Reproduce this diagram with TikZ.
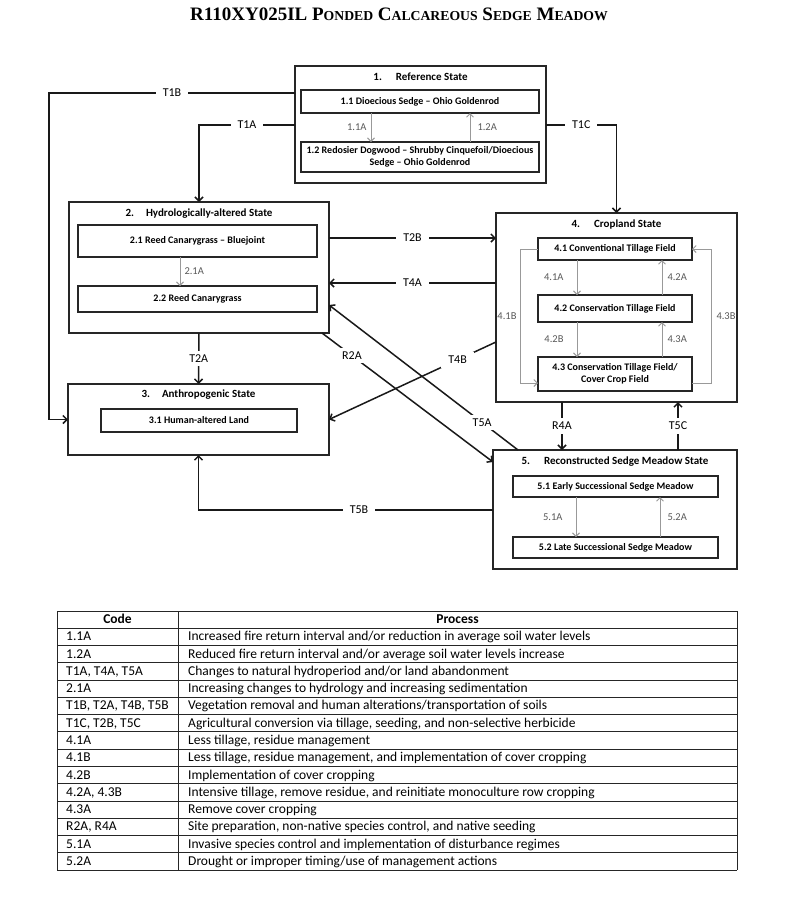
\documentclass[tikz,border=0pt]{standalone}
\usepackage{fontspec}
\setmainfont{Carlito}
\newfontfamily\titlefont{Liberation Serif}
\usetikzlibrary{arrows.meta}
\newcommand\myscaps[1]{{\fontsize{13.7}{14}\selectfont #1}}
\begin{document}
\begin{tikzpicture}[x=1pt,y=-1pt,
  statebox/.style={draw=black!85, line width=1.8pt, inner sep=0pt, outer sep=0pt},
  subbox/.style={draw=black!85, line width=1.1pt, inner sep=0pt, outer sep=0pt, align=center, font=\bfseries\fontsize{10}{12}\selectfont},
  stitle/.style={font=\bfseries\fontsize{11}{13}\selectfont, inner sep=0pt},
  conn/.style={line width=1.5pt, draw=black!90},
  arr/.style={-{Straight Barb[length=4pt,width=8pt]}},
  tlabel/.style={fill=white, font=\fontsize{12}{14}\selectfont, inner xsep=7pt, inner ysep=4pt},
  garrow/.style={draw=black!40, line width=1pt, -{Straight Barb[length=3.5pt,width=7pt]}},
  glabel/.style={font=\fontsize{10.5}{12}\selectfont, text=black!65, inner sep=0pt},
  tline/.style={line width=0.9pt, draw=black!85},
  ttext/.style={font=\fontsize{13.5}{16}\selectfont, anchor=base west, inner sep=0pt},
  thead/.style={font=\bfseries\fontsize{13.5}{16}\selectfont, anchor=base, inner sep=0pt}
]
\useasboundingbox[fill=white] (0,0) rectangle (800,906);

% title
\node[anchor=base, inner sep=0pt, font=\titlefont\bfseries\fontsize{19}{20}\selectfont] (title) at (399,20)
  {R110XY025IL P\myscaps{ONDED} C\myscaps{ALCAREOUS} S\myscaps{EDGE} M\myscaps{EADOW}};

% state 1
\node[statebox, minimum width=251pt, minimum height=117pt] (s1) at (420.5,124.5) {};
\node[stitle] (s1t) at (420.5,77) {1.\hspace{14pt}Reference State};
\node[subbox, minimum width=238pt, minimum height=23pt] (b11) at (420,101.5) {1.1 Dioecious Sedge \textendash{} Ohio Goldenrod};
\node[subbox, minimum width=238pt, minimum height=30pt] (b12) at (420,157) {1.2 Redosier Dogwood \textendash{} Shrubby Cinquefoil/Dioecious\\Sedge \textendash{} Ohio Goldenrod};

% state 2
\node[statebox, minimum width=260pt, minimum height=131pt] (s2) at (199,267.5) {};
\node[stitle] (s2t) at (199,214) {2.\hspace{12pt}Hydrologically-altered State};
\node[subbox, minimum width=239pt, minimum height=32pt] (b21) at (197.5,241) {2.1 Reed Canarygrass \textendash{} Bluejoint};
\node[subbox, minimum width=239pt, minimum height=26pt] (b22) at (197.5,299) {2.2 Reed Canarygrass};

% state 3
\node[statebox, minimum width=261pt, minimum height=71pt] (s3) at (198.5,419.5) {};
\node[stitle] (s3t) at (198.5,395) {3.\hspace{12pt}Anthropogenic State};
\node[subbox, minimum width=196pt, minimum height=23pt] (b31) at (199,420.5) {3.1 Human-altered Land};

% state 4
\node[statebox, minimum width=241pt, minimum height=189pt] (s4) at (616.5,307.5) {};
\node[stitle] (s4t) at (616.5,224) {4.\hspace{14pt}Cropland State};
\node[subbox, minimum width=154pt, minimum height=22pt] (b41) at (615,249) {4.1 Conventional Tillage Field};
\node[subbox, minimum width=154pt, minimum height=27pt] (b42) at (615,308.5) {4.2 Conservation Tillage Field};
\node[subbox, minimum width=154pt, minimum height=34pt] (b43) at (615,374) {4.3 Conservation Tillage Field/\\Cover Crop Field};

% state 5
\node[statebox, minimum width=244pt, minimum height=119pt] (s5) at (615,509.5) {};
\node[stitle] (s5t) at (615,462) {5.\hspace{14pt}Reconstructed Sedge Meadow State};
\node[subbox, minimum width=205pt, minimum height=21pt] (b51) at (615.5,486.5) {5.1 Early Successional Sedge Meadow};
\node[subbox, minimum width=205pt, minimum height=21pt] (b52) at (615.5,547.5) {5.2 Late Successional Sedge Meadow};

% community pathways
\draw[garrow] ([xshift=-49pt]b11.south) -- node[glabel,left=4pt]{1.1A} ([xshift=-49pt]b12.north);
\draw[garrow] ([xshift=50pt]b12.north) -- node[glabel,right=7pt]{1.2A} ([xshift=50pt]b11.south);
\draw[garrow] ([xshift=-17.5pt]b21.south) -- node[glabel,right=4pt]{2.1A} ([xshift=-17.5pt]b22.north);
\draw[garrow] ([xshift=-38pt]b41.south) -- node[glabel,left=13pt]{4.1A} ([xshift=-38pt]b42.north);
\draw[garrow] ([xshift=47pt]b42.north) -- node[glabel,right=5pt]{4.2A} ([xshift=47pt]b41.south);
\draw[garrow] ([xshift=-38pt]b42.south) -- node[glabel,left=13pt]{4.2B} ([xshift=-38pt]b43.north);
\draw[garrow] ([xshift=47pt]b43.north) -- node[glabel,right=5pt]{4.3A} ([xshift=47pt]b42.south);
\draw[garrow] ([xshift=-39.5pt]b51.south) -- node[glabel,left=13pt]{5.1A} ([xshift=-39.5pt]b52.north);
\draw[garrow] ([xshift=44.5pt]b52.north) -- node[glabel,right=7pt]{5.2A} ([xshift=44.5pt]b51.south);
\draw[garrow] (b41.west) -- ++(-18,0) |- node[glabel,pos=0.25,left=3pt]{4.1B} ([yshift=-9pt]b43.west);
\draw[garrow] ([yshift=-9pt]b43.east) -- ++(19,0) |- node[glabel,pos=0.25,right=5pt]{4.3B} (b41.east);

% transitions
\draw[conn,arr] ([yshift=31.5pt]s1.west) -- node[tlabel]{T1B} ++(-246,0) |- (s3.west);
\draw[conn,arr] ([yshift=-0.5pt]s1.west) -| node[tlabel,pos=0.25]{T1A} (s2.north);
\draw[conn,arr] ([yshift=-0.5pt]s1.east) -| node[tlabel,pos=0.25]{T1C} (s4.north);
\coordinate (t2b) at ([yshift=29.5pt]s2.east);
\draw[conn,arr] (t2b) -- node[tlabel]{T2B} (t2b -| s4.west);
\coordinate (t4a) at ([yshift=-15.5pt]s2.east);
\draw[conn,arr] (t4a -| s4.west) -- node[tlabel]{T4A} (t4a);
\draw[conn,arr] (s2.south) -- node[tlabel]{T2A} (s3.north);
\draw[conn,arr] ([yshift=-34.5pt]s4.west) -- node[tlabel,pos=0.23]{T4B} (s3.east);
\draw[conn,arr] ([xshift=-7pt]s2.south east) -- node[tlabel,pos=0.175]{R2A} ([yshift=-12pt]s5.north west);
\draw[conn,arr] ([xshift=25pt]s5.north west) -- node[tlabel,pos=0.19]{T5A} ([yshift=-37.5pt]s2.east);
\draw[conn,arr] ([yshift=-0.5pt]s5.west) -| node[tlabel,pos=0.2275]{T5B} (s3.south);
\coordinate (r4a) at ([xshift=-54.5pt]s4.south);
\draw[conn,arr] (r4a) -- node[tlabel]{R4A} (r4a |- s5.north);
\coordinate (t5c) at ([xshift=61.5pt]s4.south);
\draw[conn,arr] (t5c |- s5.north) -- node[tlabel]{T5C} (t5c);

% table
\foreach \i in {0,...,15} \draw[tline] (57,{611+\i*17.27}) -- (737,{611+\i*17.27});
\draw[tline] (57,611) -- (57,870.05);
\draw[tline] (178,611) -- (178,870.05);
\draw[tline] (737,611) -- (737,870.05);

\node[thead] (hcode) at (117.5,623.6) {Code};
\node[thead] (hproc) at (457.5,623.6) {Process};

\node[ttext] (c1) at (66,640.87) {1.1A};
\node[ttext] (p1) at (188,640.87) {Increased fire return interval and/or reduction in average soil water levels};
\node[ttext] (c2) at (66,658.14) {1.2A};
\node[ttext] (p2) at (188,658.14) {Reduced fire return interval and/or average soil water levels increase};
\node[ttext] (c3) at (66,675.41) {T1A, T4A, T5A};
\node[ttext] (p3) at (188,675.41) {Changes to natural hydroperiod and/or land abandonment};
\node[ttext] (c4) at (66,692.68) {2.1A};
\node[ttext] (p4) at (188,692.68) {Increasing changes to hydrology and increasing sedimentation};
\node[ttext] (c5) at (66,709.95) {T1B, T2A, T4B, T5B};
\node[ttext] (p5) at (188,709.95) {Vegetation removal and human alterations/transportation of soils};
\node[ttext] (c6) at (66,727.22) {T1C, T2B, T5C};
\node[ttext] (p6) at (188,727.22) {Agricultural conversion via tillage, seeding, and non-selective herbicide};
\node[ttext] (c7) at (66,744.49) {4.1A};
\node[ttext] (p7) at (188,744.49) {Less tillage, residue management};
\node[ttext] (c8) at (66,761.76) {4.1B};
\node[ttext] (p8) at (188,761.76) {Less tillage, residue management, and implementation of cover cropping};
\node[ttext] (c9) at (66,779.03) {4.2B};
\node[ttext] (p9) at (188,779.03) {Implementation of cover cropping};
\node[ttext] (c10) at (66,796.30) {4.2A, 4.3B};
\node[ttext] (p10) at (188,796.30) {Intensive tillage, remove residue, and reinitiate monoculture row cropping};
\node[ttext] (c11) at (66,813.57) {4.3A};
\node[ttext] (p11) at (188,813.57) {Remove cover cropping};
\node[ttext] (c12) at (66,830.84) {R2A, R4A};
\node[ttext] (p12) at (188,830.84) {Site preparation, non-native species control, and native seeding};
\node[ttext] (c13) at (66,848.11) {5.1A};
\node[ttext] (p13) at (188,848.11) {Invasive species control and implementation of disturbance regimes};
\node[ttext] (c14) at (66,865.38) {5.2A};
\node[ttext] (p14) at (188,865.38) {Drought or improper timing/use of management actions};
\end{tikzpicture}
\end{document}
